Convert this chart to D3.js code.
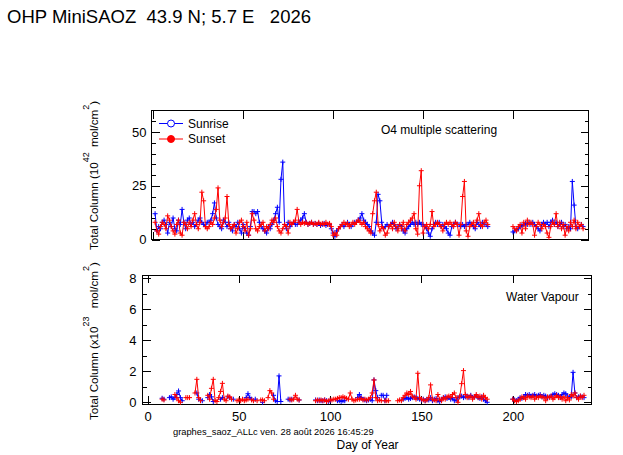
<!DOCTYPE html>
<html lang="fr">
<head>
<meta charset="UTF-8">
<title>OHP MiniSAOZ 2026</title>
<style>
  body { margin: 0; background: #fff; }
  svg { display: block; font-family: "Liberation Sans", Arial, sans-serif; }
  .frame { fill: none; stroke: #000; stroke-width: 1; shape-rendering: crispEdges; }
  .axis path { display: none; }
  .axis line { stroke: #000; shape-rendering: crispEdges; }
  .axis text { font-size: 13px; fill: #000; font-family: "Liberation Sans", Arial, sans-serif; }
  .serie { fill: none; stroke-width: 1; }
  .mark { fill: none; stroke-width: 1; }
  .lbl { font-size: 12px; fill: #000; }
</style>
</head>
<body>
<svg width="623" height="455"></svg>
<script src="https://d3js.org/d3.v7.min.js"></script>
<script>
const _ = null;
const firstDay = 1; // first value of each array = day 1

const xTicks = [0, 50, 100, 150, 200];
const o4Ticks = [0, 25, 50];
const o4Minor = [5, 10, 15, 20, 30, 35, 40, 45, 55];
const h2oTicks = [0, 2, 4, 6, 8];
const h2oMinor = [1, 3, 5, 7];

// O4 multiple scattering, total column (10^42 mol/cm2)
const o4Sunrise = [
  12, 4, 6, 5, 8, 9, 7, 3, 8, 6,
  10, 5, 4, 9, 7, 14, 8, 5, 9, 10,
  7, 8, 6, 7, 9, 10, 8, 7, 6, 8,
  8, 9, 12, 17, 10, 7, 6, 5, 9, 8,
  6, 8, 5, 4, 7, 6, 8, 5, 3, 7,
  5, 3, 2, 6, 13, 13, 12, 13, 8, 6,
  5, 4, 3, 6, 5, 7, 9, 12, 15, 8,
  28, 36, 7, 5, 8, 6, 7, 8, 7, 7,
  8, 9, 10, 12, 8, 7, 7.5, 8, 7, 7.5,
  7, 7.5, 6.5, 7, 7.5, 6.5, 7, 7, 5, 3,
  1.5, 4, 5, 6, 7, 6, 7, 8, 7, 6,
  7, 8, 8, 9, 10, 12, 9, 8, 7, 6,
  4, 3, 2, 8, 21, 18, 8, 5, 6, 7,
  6, 7, 8, 7, 5, 6, 7, 6, 4, 3,
  5, 6, 7, 8, 7, 8, 7, 8, 7, 7,
  6, 5, 3, 1.5, 5, 7, 8, 7, 8, 6,
  7, 6, 5, 3, 2, 6, 7, 8, 7, 7,
  6, 7, 6, 7, 7, 8, 7, 6, 5, 8,
  7, 6, 8, 7, 7, 6, _, _, _, _,
  _, _, _, _, _, _, _, _, _, 3.5,
  4, 4.5, 5, 6, 6.5, 7, 7.5, 7, 8, 7,
  8, 7, 6, 5, 4, 7, 8, 7, 8, 6,
  8, 9, 7, 8, 6, 7, 8, 6, 7, 5,
  6, 5, 27, 16, 6, 5, 6, 7, 6, _
];
const o4Sunset = [
  8, 4, 2.5, 6, 8, 7, 5, 11, 9, 6,
  4, 2.5, 7, 9, 3, 2, 8, 7, 5, 8,
  6, 9, 12, 7, 5, 8, 22, 18, 6, 5,
  6, 8, 7, 10, 14, 24, 9, 6, 8, 10,
  20, 7, 5, 6, 7, 3, 5, 8, 9, 6,
  4, 8, 2, 5, 12, 9, 5, 4, 6, 7,
  8, 4, 6, 5, 7, 9, 8, 10, 6, 4,
  3, 5, 7, 6, 3, 8, 7, 8, 9, 14,
  8, 7, 8, 7.5, 8, 7, 7.5, 8, 7, 7.5,
  7, 8, 7, 7.5, 7, 8, 7, 7.5, 6, 2,
  3, 2, 5, 6, 7, 8, 7, 7.5, 6, 7,
  8, 7, 8, 9, 8, 7, 8, 6, 5, 4,
  3, 12, 18, 22, 7, 4, 6, 5, 2, 3,
  6, 7, 5, 8, 6, 4, 7, 5, 8, 4,
  7, 8, 9, 10, 12, 5, 2.5, 25, 32, 3,
  6, 7, 5, 7, 13, 6, 7, 8, 7, 6,
  4, 7, 8, 7, 8, 7, 6, 8, 7, 2,
  7, 20, 27, 4, 1.5, 6, 7, 8, 6, 9,
  12, 7, 6, 8, 9, 7, _, _, _, _,
  _, _, _, _, _, _, _, _, _, 6,
  5, 4, 6, 7, 3, 8, 5, 9, 7, 8,
  7, 2, 6, 8, 7, 5, 7, 6, 3, 1,
  6, 8, 7, 12, 6, 8, 5, 7, 2, 6,
  4, 8, 6, 9, 5, 8, 6, 7, 5, _
];

// Water vapour, total column (x10^23 mol/cm2)
const h2oSunrise = [
  _, _, _, _, _, _, _, 0.26, 0.2, _,
  _, 0.3, 0.35, 0.2, 0.3, 0.5, 0.73, 0.3, 0.1, _,
  _, _, _, _, _, _, 0.6, 0.2, 0.15, 0.1,
  _, _, 0.3, 0.5, 0.35, 0.05, _, _, _, 0.2,
  0.3, _, _, 0.35, 0.3, _, 0.2, _, _, _,
  _, _, _, 0.3, 0.55, 0.3, 0.2, _, 0.2, _,
  _, _, 0, _, _, _, _, _, 0.45, 0.1,
  0.05, 1.7, 0.05, _, _, _, 0.2, 0.15, 0.2, _,
  _, _, 0.15, _, _, _, _, _, _, _,
  _, 0.15, 0.1, 0.15, 0.1, 0.1, 0.15, 0.1, 0.05, 0.1,
  _, _, _, 0.1, 0.1, 0.05, 0.1, 0.1, _, _,
  _, _, _, _, 0.3, 0.5, 0.3, 0.2, 0.15, 0.1,
  0.15, 0.2, 0.1, 1.44, 0.75, 0.3, _, 0.45, 0.45, 0.1,
  0.45, _, _, _, _, _, _, _, _, 0.2,
  0.25, 0.3, 0.2, 0.25, 0.3, 0.35, 0.3, 0.25, 0.2, 0.15,
  0.2, 0.1, 0.2, 0.15, 0.3, 0.1, 0.2, 0.25, 0.1, 0.05,
  0.2, 0.3, 0.35, 0.25, 0.3, 0.2, 0.3, 0.1, 0.15, 0.3,
  0.35, 0.4, 0.3, 0.35, 0.4, 0.3, 0.45, 0.3, 0.35, 0.4,
  0.3, 0.25, 0.35, 0.2, 0.1, 0, _, _, _, _,
  _, _, _, _, _, _, _, _, _, 0.2,
  0.15, 0.1, 0.2, 0.3, 0.25, 0.35, 0.5, 0.45, 0.5, 0.4,
  0.45, 0.5, 0.4, 0.45, 0.5, 0.35, 0.45, 0.4, 0.3, 0.35,
  0.4, 0.5, 0.55, 0.5, 0.45, 0.3, 0.5, 0.6, 0.55, 0.4,
  0.3, 0.35, 1.93, 0.6, 0.3, 0.35, 0.4, 0.35, 0.3, _
];
const h2oSunset = [
  _, _, _, _, _, _, _, 0.2, 0.15, _,
  _, _, _, _, 0.5, 0.3, 0.1, 0, _, _,
  0.3, 0.3, 0.3, _, _, 0.6, 1.48, 0.3, 0.1, _,
  _, _, 0.45, 0.2, 0.9, 1.48, 0.1, 0.05, 0.3, 0.7,
  1.22, 0.2, 0.1, 0.4, 0.35, 0.2, _, _, 0.1, 0.15,
  0.1, 0.2, 0.1, 0.15, 0.2, _, 0.15, 0.1, _, 0.1,
  _, 0.15, 0.15, 0.1, _, 0.3, 0.75, 0.6, 0.2, _,
  _, _, _, _, _, _, _, 0.2, 0.15, 0.2,
  0.45, 0.2, 0.15, _, _, _, _, _, _, _,
  _, 0.1, 0.15, 0.1, 0.15, 0.1, 0.15, 0.05, 0.1, 0.15,
  0.15, 0.2, 0.2, 0.25, 0.3, 0.3, 0.35, 0.3, 0.25, 0.2,
  0.6, 0.2, 0.1, 0.15, 0.2, 0.2, 0.25, 0.15, 0.2, 0.15,
  0.2, 0.3, 0.6, 1.44, 0.3, 0.1, 0.15, 0.1, _, 0.1,
  0.1, 0.1, _, _, _, _, 0.1, 0.15, 0.1, 0.3,
  0.45, 0.6, 0.5, 0.7, 0.4, 0.3, 0.2, 1.87, 0.3, 0.2,
  0.15, 0.1, 0.15, 0.3, 1.12, 0.2, 0.15, 0.1, 0.5, 0.2,
  0.1, 0.3, 0.2, 0.35, 0.4, 0.3, 0.5, 0.6, 0.3, 0,
  0.4, 1.2, 2.04, 0.5, 0.3, 0.35, 0.4, 0.2, 0.35, 0.5,
  0.3, 0.4, 0.2, 0.45, 0.3, 0.2, _, _, _, _,
  _, _, _, _, _, _, _, _, _, 0.2,
  0.1, 0.05, 0.1, 0.2, 0.35, 0.3, 0.2, 0.4, 0.35, 0.3,
  0.4, 0.2, 0.35, 0.3, 0.4, 0.35, 0.3, 0.1, 0.35, 0.3,
  0.4, 0.2, 0.3, 0.45, 0.3, 0.35, 0.2, 0.35, 0.1, 0.3,
  0.15, 0.5, 0.4, 0.6, 0.3, 0.2, 0.4, 0.3, 0.45, _
];

const blue = "#0000ff", red = "#ff0000";
const svg = d3.select("svg");

// the two panels do not share the same frame
const topPanel = {
  x: d3.scaleLinear().domain([-1, 242]).range([151.5, 588.5]),
  y: d3.scaleLinear().domain([0, 60]).range([239.5, 110.5]),
  yTicks: o4Ticks, yMinor: o4Minor, pad: 5, labelsX: false
};
const botPanel = {
  x: d3.scaleLinear().domain([-2.75, 243.1]).range([142.5, 591.5]),
  y: d3.scaleLinear().domain([-0.11, 8.2]).range([404, 275]),
  yTicks: h2oTicks, yMinor: h2oMinor, pad: 6, labelsX: true
};

function drawPanel(p, rise, set) {
  const [x0, x1] = p.x.range();
  const [y0, y1] = p.y.range();
  const g = svg.append("g");

  // left / right ticks, all pointing inward
  g.append("g").attr("class", "axis").attr("transform", `translate(${x0},0)`)
    .call(d3.axisLeft(p.y).tickValues(p.yTicks).tickSize(-8).tickPadding(p.pad).tickFormat(d3.format("d")));
  g.append("g").attr("class", "axis").attr("transform", `translate(${x0},0)`)
    .call(d3.axisLeft(p.y).tickValues(p.yMinor).tickSize(-4).tickFormat(""));
  g.append("g").attr("class", "axis").attr("transform", `translate(${x1},0)`)
    .call(d3.axisRight(p.y).tickValues(p.yTicks).tickSize(-8).tickFormat(""));
  g.append("g").attr("class", "axis").attr("transform", `translate(${x1},0)`)
    .call(d3.axisRight(p.y).tickValues(p.yMinor).tickSize(-4).tickFormat(""));

  g.append("g").attr("class", "axis").attr("transform", `translate(0,${y1})`)
    .call(d3.axisTop(p.x).tickValues(xTicks).tickSize(-8).tickFormat(""));
  g.append("g").attr("class", "axis").attr("transform", `translate(0,${y0})`)
    .call(d3.axisBottom(p.x).tickValues(xTicks).tickSize(-8).tickPadding(8)
      .tickFormat(p.labelsX ? d3.format("d") : ""));

  g.append("rect").attr("class", "frame")
    .attr("x", x0).attr("y", y1).attr("width", x1 - x0).attr("height", y0 - y1);

  const line = d3.line()
    .defined(d => d.v != null)
    .x(d => p.x(d.day))
    .y(d => p.y(d.v));

  [[rise, blue], [set, red]].forEach(([vals, col]) => {
    const pts = vals.map((v, i) => ({ day: firstDay + i, v: v }));
    g.append("path").attr("class", "serie").attr("stroke", col).attr("d", line(pts));
    g.selectAll(null).data(pts.filter(d => d.v != null)).enter()
      .append("path").attr("class", "mark").attr("stroke", col)
      .attr("transform", d => `translate(${p.x(d.day)},${p.y(d.v)})`)
      .attr("d", "M-2.5,0H2.5M0,-2.5V2.5");
  });
  return g;
}

drawPanel(topPanel, o4Sunrise, o4Sunset);
drawPanel(botPanel, h2oSunrise, h2oSunset);

// legend
const leg = svg.append("g");
[["Sunrise", blue, "#fff", 123.5], ["Sunset", red, red, 139]].forEach(([t, col, fill, y]) => {
  leg.append("line").attr("x1", 159).attr("x2", 183).attr("y1", y).attr("y2", y).attr("stroke", col);
  leg.append("circle").attr("cx", 171).attr("cy", y).attr("r", 3.5).attr("stroke", col).attr("fill", fill);
  leg.append("text").attr("class", "lbl").attr("x", 188).attr("y", y + 4).text(t);
});

svg.append("text").attr("class", "lbl").attr("x", 381).attr("y", 133.5).text("O4 multiple scattering");
svg.append("text").attr("class", "lbl").attr("x", 506).attr("y", 301).text("Water Vapour");

// title and footer
svg.append("text").attr("x", 7).attr("y", 22.5).attr("font-size", 18.5)
  .style("white-space", "pre").text("OHP MiniSAOZ  43.9 N; 5.7 E   2026");
svg.append("text").attr("x", 173).attr("y", 435).attr("font-size", 9.3)
  .text("graphes_saoz_ALLc ven. 28 août 2026 16:45:29");
svg.append("text").attr("class", "lbl").attr("x", 336.5).attr("y", 449).text("Day of Year");

// rotated y titles with superscripts
function yTitle(x, y, main, exp, gap) {
  const t = svg.append("text").attr("transform", `translate(${x},${y}) rotate(-90)`)
    .attr("font-size", 11.6).style("white-space", "pre");
  t.append("tspan").text(main);
  t.append("tspan").attr("dy", -9).attr("font-size", 9).text(exp);
  t.append("tspan").attr("dy", 9).attr("dx", gap).text(" mol/cm");
  t.append("tspan").attr("dy", -9).attr("font-size", 9).text("2");
  t.append("tspan").attr("dy", 9).text(")");
}
yTitle(98, 250, "Total Column (10", "42", 2);
yTitle(98, 420, "Total Column (x10", "23", 5);
</script>
</body>
</html>
